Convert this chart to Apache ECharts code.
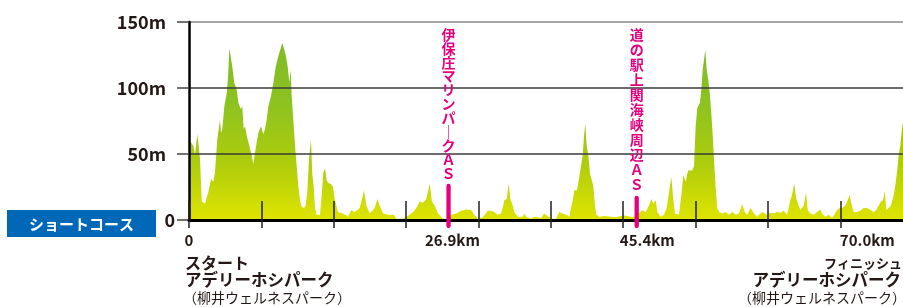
<!DOCTYPE html>
<html>
<head>
<meta charset="utf-8">
<script src="https://cdn.jsdelivr.net/npm/echarts@6/dist/echarts.min.js"></script>
<style>
html,body{margin:0;padding:0;background:#fff;}
#chart{width:903px;height:307px;}
</style>
</head>
<body>
<div id="chart"></div>
<script>
// ---- data (distance in km along the drawn axis, elevation in m) ----
const distanceKm = [0,0.10,0.45,0.62,0.86,0.96,1.14,1.32,1.66,1.83,2.00,2.28,2.52,2.69,2.93,3.21,3.32,3.45,3.66,3.91,4.07,4.18,4.32,4.49,4.69,4.94,5.11,5.36,5.52,5.67,5.80,5.98,6.15,6.32,6.50,6.66,6.84,7.02,7.18,7.46,7.70,7.88,8.05,8.22,8.50,8.74,8.99,9.25,9.50,9.67,9.88,10.05,10.23,10.40,10.54,10.64,10.81,10.99,11.16,11.33,11.50,11.68,11.92,12.09,12.26,12.44,12.64,12.78,12.92,13.06,13.23,13.58,13.75,13.92,14.10,14.27,14.44,14.72,14.92,15.10,15.44,15.96,16.48,16.82,17.17,17.69,17.93,18.14,18.38,18.73,19.25,19.52,19.76,20.11,20.62,21.25,21.48,22.18,22.87,23.22,23.56,23.91,24.25,24.59,24.95,25.18,25.46,25.81,26.32,26.64,27.18,27.70,28.22,28.74,29.23,29.57,29.92,30.44,30.96,31.30,31.64,31.99,32.34,32.51,32.68,32.93,33.13,33.30,33.55,33.71,34.07,34.58,34.75,34.93,35.44,35.79,36.14,36.48,36.82,37.18,37.52,38.04,38.38,38.73,39.07,39.41,39.59,39.77,39.93,40.21,40.45,40.63,40.80,40.97,41.07,41.22,41.38,41.56,41.74,41.90,42.08,42.21,42.52,43.04,43.74,44.25,44.77,45.08,45.43,46.02,46.64,46.98,47.33,47.67,47.91,48.12,48.37,48.54,48.89,49.23,49.51,49.75,49.99,50.19,50.37,50.78,51.06,51.23,51.48,51.72,51.92,52.16,52.34,52.51,52.68,52.96,53.10,53.24,53.37,53.51,53.65,53.82,54.00,54.13,54.28,54.41,54.59,54.75,54.93,55.27,55.62,55.97,56.31,56.66,57.00,57.34,57.59,57.86,58.21,58.56,58.87,59.39,59.56,59.90,60.25,60.60,60.94,61.28,61.63,61.80,61.98,62.15,62.32,62.49,62.73,62.94,63.19,63.36,63.71,63.95,64.12,64.39,64.74,65.09,65.43,65.60,65.95,66.30,66.64,66.88,67.16,67.44,67.68,68.02,68.27,68.47,68.64,68.89,69.23,69.57,69.93,70.27,70.61,70.96,71.23,71.48,71.72,71.93,72.10,72.27,72.52,72.75,73.04,73.20,73.38,73.55,73.72,73.90,74.00];
const elevationM = [57,60,56,49,65,59,46,14,12.5,13,21,31,29,36,61,76,66,69,86,96,111,130,124,116,104,99,89,84,86,69,71,64,59,54,49,42.5,51,59,66,71,65,69,76,86,94,104,116,124,130,134,129,124,116,104,114,94,76,56,41,26,15,10,9,11,21,46,61,34,26,9,4,4,19,36,39,30,28,27,25,16,6,5,2.5,7.5,6,9,16,22.5,11,5,9,16,11,5,4,4,1,1,4,6,9,14,13,16,27.5,14,11,5,1,1,4,5,7,8,7.5,4,1,2,7,7,6,4,5,9,15,16,27.5,16,11,6,2.5,2.5,5,2.5,1,2.5,2,1.5,5,3,1,1,6,5,4,2.5,9,15,22.5,22.5,32.5,41,49,66,73,56,49,35,34,26,11,4,2.5,3,2.5,2,3,3.5,3,2,5,7.5,6,11,16,12.5,15,6,2.5,4,9,21,32.5,16,5,4,21,34,29,37.5,36,37.5,41,71,85,89,99,114,121,129,114,106,94,81,64,46,24,9,6,5,6,4,6,4,5,12,6,4,9,5,2.5,6,7,4,5.5,5,6,5.5,7,7.5,4,9,15,19,27.5,16,11,7.5,11,21,7.5,5,4,6,8,5,2.5,4,1.5,4,7.5,9,9,11,15,19,12.5,6,6,7,9,9,7.5,6,7.5,11,14,15,22,7.5,9,11,19,26,36,49,56,69,74];

const aidStationKm = [26.9, 46.4];
const aidStationNames = ['伊保庄マリンパークＡＳ', '道の駅上関海峡周辺ＡＳ'];

const xTickKm = [0, 7.5, 15, 22.5, 30, 37.5, 45, 52.5, 60, 67.5];
const xLabelKm = [0, 27.3, 47.5, 70.3];
const xLabelText = ['0', '26.9km', '45.4km', '70.0km'];

const yMin = 0, yMax = 150, yStep = 50;
const courseName = 'ショートコース';
const startLines = ['スタート', 'アデリーホシパーク', '（柳井ウェルネスパーク）'];
const finishLines = ['フィニッシュ', 'アデリーホシパーク', '（柳井ウェルネスパーク）'];

// ---- chart ----
const FONT = '"Noto Sans CJK JP", "Noto Sans", sans-serif';
const DARK = '#231815';
const PINK = '#e4007f';
const markerStyle = [
  { textTop: 5.5, lh: 13.9, gap: 5.5 },
  { textTop: 5.5, lh: 15.0, gap: 5.5 }
];

const chart = echarts.init(document.getElementById('chart'), null, { renderer: 'canvas' });

const profile = distanceKm.map((d, i) => [d, elevationM[i]]);

chart.setOption({
  animation: false,
  backgroundColor: '#fff',
  grid: { left: 189, right: 0, top: 22, bottom: 87, containLabel: false },
  xAxis: [
    {
      type: 'value', min: 0, max: 74, position: 'bottom', z: 4,
      axisLine: { show: true, onZero: false, lineStyle: { color: '#000', width: 3 } },
      axisTick: { show: true, inside: true, length: 19, customValues: xTickKm, lineStyle: { color: '#222', width: 1.5 } },
      axisLabel: {
        show: true, customValues: xLabelKm, margin: 13,
        formatter: function (v) {
          let best = 0;
          xLabelKm.forEach((k, i) => { if (Math.abs(k - v) < Math.abs(xLabelKm[best] - v)) best = i; });
          return xLabelText[best];
        },
        color: DARK, fontFamily: FONT, fontWeight: 'bold', fontSize: 15
      },
      splitLine: { show: false }
    },
    {
      type: 'value', min: 0, max: 74, position: 'bottom', z: 4,
      axisLine: { show: false },
      axisTick: { show: true, inside: false, length: 8, customValues: xTickKm, lineStyle: { color: '#222', width: 1.5 } },
      axisLabel: { show: false },
      splitLine: { show: false }
    }
  ],
  yAxis: {
    type: 'value', min: yMin, max: yMax, interval: yStep, z: 3,
    axisLine: { show: true, lineStyle: { color: '#000', width: 2.5 } },
    axisTick: { show: true, inside: false, length: 12, lineStyle: { color: '#444', width: 1.5 } },
    axisLabel: {
      margin: 14, color: DARK, fontFamily: FONT, fontWeight: 'bold', fontSize: 18,
      formatter: function (v) { return v === 0 ? '{z|0}' : '{m|' + v + 'm}'; },
      rich: {
        z: { color: DARK, fontFamily: FONT, fontWeight: 'bold', fontSize: 18 },
        m: { color: DARK, fontFamily: FONT, fontWeight: 'bold', fontSize: 18, padding: [0, 9, 0, 0] }
      }
    },
    splitLine: { show: true, lineStyle: { color: ['#000', '#3a3a3a', '#3a3a3a', '#8a8a8a'], width: 1.5 } }
  },
  series: [
    {
      type: 'line', data: profile, xAxisIndex: 0, showSymbol: false, symbol: 'none', z: 2,
      lineStyle: { width: 0, opacity: 0 },
      areaStyle: {
        opacity: 1,
        color: {
          type: 'linear', x: 0, y: 22, x2: 0, y2: 220, global: true,
          colorStops: [
            { offset: 0, color: '#7cba28' },
            { offset: 0.4, color: '#8cc220' },
            { offset: 0.72, color: '#afcd0c' },
            { offset: 1, color: '#dfe400' }
          ]
        }
      }
    },
    {
      type: 'custom', xAxisIndex: 0, z: 10, clip: false,
      data: aidStationKm.map(k => [k]),
      renderItem: function (params, api) {
        const i = params.dataIndex;
        const st = markerStyle[i];
        const p0 = api.coord([api.value(0), 0]);
        const top = params.coordSys.y;
        const chars = aidStationNames[i].split('').map(c => c === 'ー' ? '｜' : c);
        const textTop = top + st.textTop;
        const textBottom = textTop + chars.length * st.lh;
        return {
          type: 'group',
          children: [
            { type: 'line', shape: { x1: p0[0], y1: p0[1] + 6, x2: p0[0], y2: textBottom + st.gap },
              style: { stroke: PINK, lineWidth: 4.3, lineCap: 'round' } },
            { type: 'text', x: p0[0], y: textTop,
              style: { text: chars.join('\n'), fill: PINK, font: 'bold 14px ' + FONT, align: 'center', verticalAlign: 'top', lineHeight: st.lh } }
          ]
        };
      }
    }
  ],
  graphic: [
    { type: 'rect', left: 7, top: 210, shape: { width: 149, height: 27 }, style: { fill: '#0068b7' } },
    { type: 'text', x: 81.5, y: 224, style: { text: courseName, fill: '#fff', font: 'bold 15px ' + FONT, align: 'center', verticalAlign: 'middle' } },
    { type: 'text', x: 185, y: 263, style: { text: startLines[0], fill: DARK, font: 'bold 16px ' + FONT, align: 'left', verticalAlign: 'middle' } },
    { type: 'text', x: 185, y: 280, style: { text: startLines[1], fill: DARK, font: 'bold 16.5px ' + FONT, align: 'left', verticalAlign: 'middle' } },
    { type: 'text', x: 183, y: 298, style: { text: startLines[2], fill: DARK, font: '14px ' + FONT, align: 'left', verticalAlign: 'middle' } },
    { type: 'text', x: 902, y: 263, style: { text: finishLines[0], fill: DARK, font: 'bold 13px ' + FONT, align: 'right', verticalAlign: 'middle' } },
    { type: 'text', x: 901, y: 280, style: { text: finishLines[1], fill: DARK, font: 'bold 16.5px ' + FONT, align: 'right', verticalAlign: 'middle' } },
    { type: 'text', x: 906, y: 298, style: { text: finishLines[2], fill: DARK, font: '14px ' + FONT, align: 'right', verticalAlign: 'middle' } }
  ]
});
</script>
</body>
</html>
